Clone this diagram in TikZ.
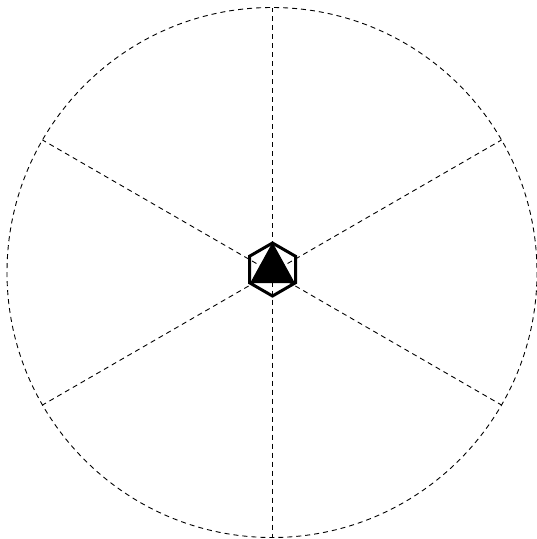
\documentclass[tikz,border=0pt]{standalone}
\usetikzlibrary{calc}
\begin{document}
\begin{tikzpicture}[x=1pt,y=-1pt,
  spoke/.style={dash pattern=on 5pt off 4pt, line width=0.9pt},
  rim/.style={dash pattern=on 5pt off 4pt, line width=0.9pt},
  hexa/.style={line width=3pt, line join=miter},
  tri/.style={fill=black, draw=black, line width=1pt}]
\useasboundingbox (0,0) rectangle (537,539);
\coordinate (c) at (272,272.5);
\coordinate (h) at (272.5,269.5);
\draw[rim] (c) circle (265);
\foreach \a in {90,30,-30,-90,150,210}
  \draw[spoke] (c) -- ++(\a:265);
\draw[tri] ($(h)+(0,-26)$) -- ($(h)+(-21.5,13)$) -- ($(h)+(21.5,13)$) -- cycle;
\draw[hexa] (h) ++(0,-26.5) -- ++(23,13.25) -- ++(0,26.5) -- ++(-23,13.25) -- ++(-23,-13.25) -- ++(0,-26.5) -- cycle;
\end{tikzpicture}
\end{document}
